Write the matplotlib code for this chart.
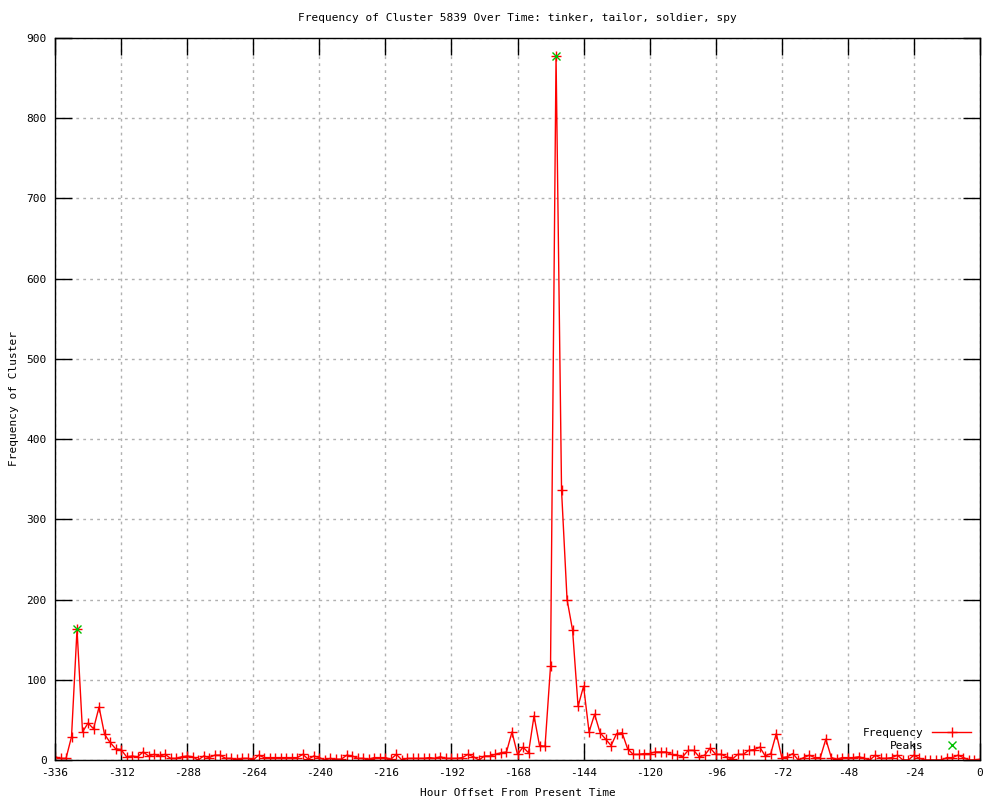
import matplotlib
matplotlib.use("Agg")
import matplotlib.pyplot as plt
import numpy as np

hours = list(range(-336, 1, 2))
frequency = [
    4, 2, 2, 29, 163, 35, 46, 39, 66, 32, 22, 14, 13, 4, 5, 4, 10, 5, 7, 5, 7,
    2, 2, 4, 5, 4, 0, 5, 3, 6, 6, 2, 2, 1, 2, 2, 0, 6, 3, 3, 3,
    3, 3, 3, 3, 7, 1, 5, 3, 0, 2, 1, 1, 6, 5, 2, 2, 1, 3, 3, 3, 1,
    7, 0, 2, 2, 2, 2, 3, 2, 4, 2, 2, 2, 3, 7, 4, 0, 5, 5, 7, 9, 10,
    35, 7, 16, 9, 55, 18, 17, 117, 878, 336, 200, 162, 67, 92, 35, 57, 34, 26, 18, 33, 34, 14, 7, 7, 8,
    8, 10, 10, 10, 7, 6, 4, 12, 12, 4, 6, 15, 7, 7, 4, 1, 7, 7, 12, 13, 16, 5, 8, 33, 3, 4, 8, 0, 3, 6,
    3, 3, 26, 3, 1, 3, 3, 3, 4, 2, 0, 6, 2, 2, 3, 6, 0, 0, 6, 2, 0, 0, 0, 0, 3, 3, 6, 3, 0, 0, 1,
]
peak_hours = [-328, -154]
peak_values = [163, 878]

x_ticks = list(range(-336, 1, 24))
y_ticks = list(range(0, 901, 100))

font = "DejaVu Sans Mono"
plt.rcParams['font.family'] = [font]
plt.rcParams['font.size'] = 8
plt.rcParams['axes.unicode_minus'] = False

fig = plt.figure(figsize=(10, 8), dpi=100)
ax = fig.add_axes([0.055, 0.05, 0.925, 0.9025])

ax.plot(hours, frequency, color='#ff0000', lw=1.0, marker='+', markersize=7,
        markeredgewidth=1.0, label='Frequency')
ax.plot(peak_hours, peak_values, linestyle='none', color='#00c000', marker='x',
        markersize=6, markeredgewidth=1.0, label='Peaks')

ax.set_xlim(-336, 0)
ax.set_ylim(0, 900)
ax.set_xticks(x_ticks)
ax.set_yticks(y_ticks)
ax.grid(True, color='#b0b0b0', linestyle=(0, (2, 3)), linewidth=1.0)
ax.set_axisbelow(True)
ax.tick_params(direction='in', length=12, width=1.0, top=True, right=True,
               labelsize=8, pad=6)
for s in ax.spines.values():
    s.set_linewidth(1.0)

ax.set_title("Frequency of Cluster 5839 Over Time: tinker, tailor, soldier, spy",
             fontsize=8, pad=12)
ax.set_xlabel("Hour Offset From Present Time", fontsize=8, labelpad=7)
ax.set_ylabel("Frequency of Cluster", fontsize=8, labelpad=5)

leg = ax.legend(loc='lower right', frameon=False, markerfirst=False,
                fontsize=8, handlelength=3.5, borderaxespad=0.4,
                labelspacing=0.3, handletextpad=0.8)
for t in leg.get_texts():
    t.set_ha('right')

fig.savefig("out.png", dpi=100)
